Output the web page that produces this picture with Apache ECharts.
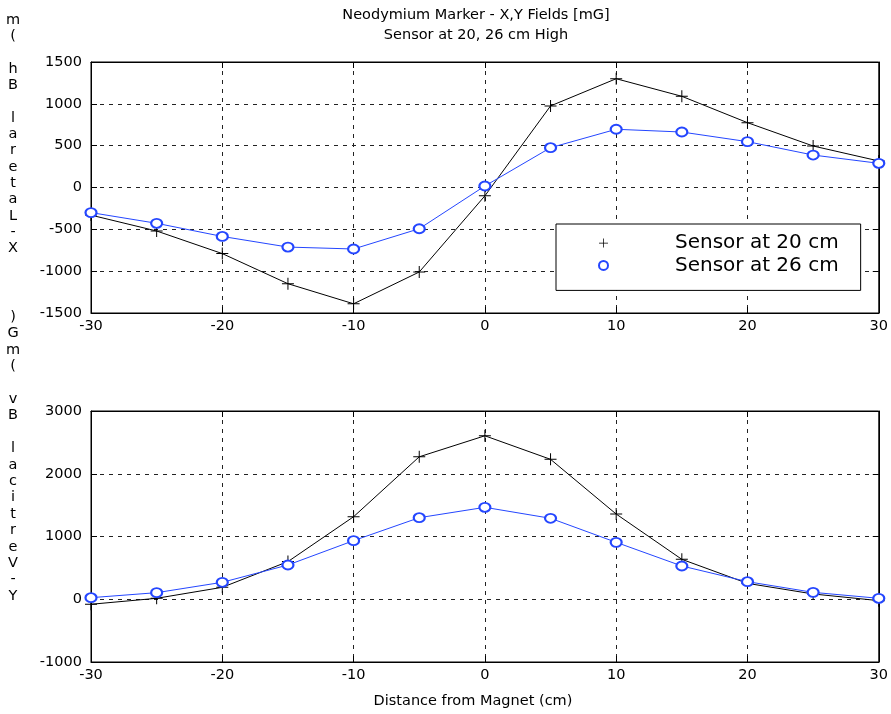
<!DOCTYPE html>
<html>
<head>
<meta charset="utf-8">
<script src="https://cdn.jsdelivr.net/npm/echarts@6/dist/echarts.min.js"></script>
<style>
html,body{margin:0;padding:0;background:#fff}
#main{width:891px;height:714px}
</style>
</head>
<body>
<div id="main"></div>
<script>
// distance from magnet (cm)
var distance = [-30, -25, -20, -15, -10, -5, 0, 5, 10, 15, 20, 25, 30];
// X lateral field Bh (mG)
var lateral20 = [-330, -520, -790, -1150, -1390, -1010, -100, 975, 1300, 1090, 775, 496, 317];
var lateral26 = [-300, -428, -585, -712, -735, -493, 18, 476, 696, 663, 548, 388, 289];
// Y vertical field Bv (mG)
var vertical20 = [-80, 15, 190, 600, 1315, 2270, 2605, 2230, 1358, 636, 253, 84, -22];
var vertical26 = [25, 105, 270, 546, 934, 1300, 1465, 1290, 907, 530, 280, 110, 15];

var xTicks = {min: -30, max: 30, interval: 10};
var topTicks = {min: -1500, max: 1500, interval: 500};
var bottomTicks = {min: -1000, max: 3000, interval: 1000};

var name20 = 'Sensor at 20 cm';
var name26 = 'Sensor at 26 cm';
var blue = '#2446ff';
var font = 'DejaVu Sans';
var plus = 'path://M5.5,0H6.5V5.5H12V6.5H6.5V12H5.5V6.5H0V5.5H5.5Z';

function pairs(ys) {
    var out = [];
    for (var i = 0; i < distance.length; i++) {
        out.push([distance[i], ys[i]]);
    }
    return out;
}
function plain(v) {
    return String(v);
}

var gridLine = {show: true, lineStyle: {color: '#222', type: [4, 5], width: 1}};
var edge = {show: true, onZero: false, lineStyle: {color: '#000'}};
var tick = {show: true, inside: true, length: 6, lineStyle: {color: '#000'}};

function mainX(idx) {
    return {
        type: 'value', gridIndex: idx, position: 'bottom', min: xTicks.min, max: xTicks.max, interval: xTicks.interval,
        axisLine: edge, axisTick: tick,
        axisLabel: {color: '#000', fontFamily: font, fontSize: 14.5, margin: 6, formatter: plain},
        splitLine: gridLine
    };
}
function sideX(idx) {
    return {
        type: 'value', gridIndex: idx, position: 'top', min: xTicks.min, max: xTicks.max, interval: xTicks.interval,
        axisLine: edge, axisTick: tick,
        axisLabel: {show: false}, splitLine: {show: false}
    };
}
function mainY(idx, t) {
    return {
        type: 'value', gridIndex: idx, position: 'left', min: t.min, max: t.max, interval: t.interval,
        axisLine: edge, axisTick: tick,
        axisLabel: {color: '#000', fontFamily: font, fontSize: 14.5, margin: 9, formatter: plain},
        splitLine: gridLine
    };
}
function sideY(idx, t) {
    return {
        type: 'value', gridIndex: idx, position: 'right', min: t.min, max: t.max, interval: t.interval,
        axisLine: edge, axisTick: tick,
        axisLabel: {show: false}, splitLine: {show: false}
    };
}

function black(xi, yi, ys) {
    return {
        name: name20, type: 'line', xAxisIndex: xi, yAxisIndex: yi, data: pairs(ys),
        symbol: plus, symbolSize: 12, showAllSymbol: true,
        itemStyle: {color: '#000'},
        lineStyle: {color: '#000', width: 1}, animation: false
    };
}
function bluel(xi, yi, ys) {
    return {
        name: name26, type: 'line', xAxisIndex: xi, yAxisIndex: yi, data: pairs(ys),
        symbol: 'emptyCircle', symbolSize: [11, 9], showAllSymbol: true,
        itemStyle: {color: blue, borderColor: blue, borderWidth: 1},
        lineStyle: {color: blue, width: 1}, animation: false
    };
}

var myChart = echarts.init(document.getElementById('main'));
var option = {
    backgroundColor: '#fff',
    animation: false,
    textStyle: {fontFamily: font},
    grid: [
        {left: 91, right: 12, top: 62, bottom: 401, show: true, borderColor: '#000', borderWidth: 1},
        {left: 91, right: 12, top: 411, bottom: 52, show: true, borderColor: '#000', borderWidth: 1}
    ],
    xAxis: [mainX(0), sideX(0), mainX(1), sideX(1)],
    yAxis: [mainY(0, topTicks), sideY(0, topTicks), mainY(1, bottomTicks), sideY(1, bottomTicks)],
    legend: {
        orient: 'vertical', left: 556, top: 224,
        data: [{name: name20, icon: plus}, {name: name26, icon: 'emptyCircle'}],
        itemWidth: 13, itemHeight: 9, itemGap: 2.4,
        padding: [9, 22, 15, 42],
        backgroundColor: '#fff', borderColor: '#000', borderWidth: 1,
        selectedMode: false,
        textStyle: {color: '#000', fontFamily: font, fontSize: 20, lineHeight: 20, padding: [0, 0, 0, 60]}
    },
    graphic: [
        {type: 'text', x: 476, y: 5, style: {
            text: 'Neodymium Marker - X,Y Fields [mG]\nSensor at 20, 26 cm High',
            font: '14.5px "DejaVu Sans"', fill: '#000', textAlign: 'center', lineHeight: 20}},
        {type: 'text', x: 13, y: 12, style: {
            text: 'm\n(\n \nh\nB\n \nl\na\nr\ne\nt\na\nL\n-\nX',
            font: '14.5px "DejaVu Sans"', fill: '#000', textAlign: 'center', lineHeight: 16.3}},
        {type: 'text', x: 13, y: 309, style: {
            text: ')\nG\nm\n(\n \nv\nB\n \nl\na\nc\ni\nt\nr\ne\nV\n-\nY',
            font: '14.5px "DejaVu Sans"', fill: '#000', textAlign: 'center', lineHeight: 16.4}},
        {type: 'text', x: 473, y: 694, style: {
            text: 'Distance from Magnet (cm)',
            font: '14.5px "DejaVu Sans"', fill: '#000', textAlign: 'center'}}
    ],
    series: [
        black(0, 0, lateral20), bluel(0, 0, lateral26),
        black(2, 2, vertical20), bluel(2, 2, vertical26)
    ]
};
myChart.setOption(option);
</script>
</body>
</html>
